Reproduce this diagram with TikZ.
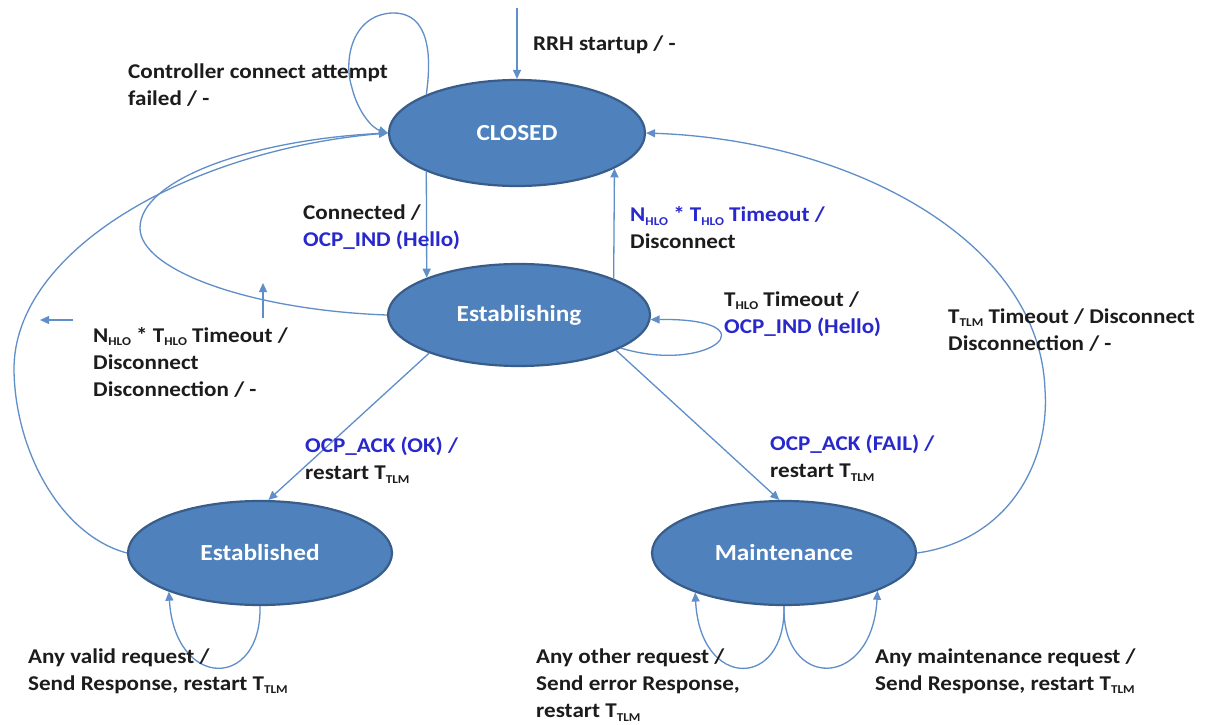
\documentclass[tikz,border=0pt]{standalone}
\usepackage{fontspec}
\setmainfont{Carlito}[FakeStretch=1.1]
\usetikzlibrary{shapes.geometric,arrows.meta}
\definecolor{stateblue}{RGB}{79,129,189}
\definecolor{stateedge}{RGB}{56,93,138}
\definecolor{linkblue}{RGB}{95,142,200}
\definecolor{actblue}{RGB}{40,40,205}
\definecolor{txtgray}{RGB}{28,28,28}
% lowered small index, as in T_TLM or N_HLO
\newcommand\lowsub[1]{\raisebox{-0.35ex}{\fontsize{12}{12}\selectfont #1}}
\newcommand\act[1]{\textcolor{actblue}{#1}}
\begin{document}
\begin{tikzpicture}[x=1pt,y=-1pt,
  state/.style={ellipse, draw=stateedge, line width=2.2pt, fill=stateblue,
    inner sep=0pt, text=white, font=\fontsize{23}{27}\selectfont\bfseries},
  trans/.style={draw=linkblue, line width=1.3pt, -{Triangle[length=9pt,width=8pt]}},
  lbl/.style={anchor=west, align=left, text=txtgray, inner sep=0pt,
    font=\fontsize{21}{27}\selectfont\bfseries},
]
\fill[white] (0,0) rectangle (1207,725);
\useasboundingbox (0,0) rectangle (1207,725);

% states
\node[state, minimum width=256pt, minimum height=106pt] (closed) at (517,133) {CLOSED};
\node[state, minimum width=262pt, minimum height=102pt] (estb) at (519,315) {Establishing};
\node[state, minimum width=264pt, minimum height=104pt] (estd) at (260,553) {Established};
\node[state, minimum width=264pt, minimum height=104pt] (maint) at (784,553) {Maintenance};

% entry transition
\coordinate (start) at (517,8);
\draw[trans] (start) -- (closed.north);

% CLOSED self-loop
\draw[trans] (closed.157) .. controls (434,40) and (422,12) .. (392,13)
  .. controls (352,15) and (343,60) .. (352,88)
  .. controls (358,112) and (372,128) .. (closed.west);

% CLOSED <-> Establishing
\draw[trans] (closed.203) -- (estb.158);
\draw[trans] (estb.21) -- (closed.340);

% Establishing self-loop
\draw[trans] (estb.342) .. controls (710,375) and (775,318) .. (estb.358);

% return paths to CLOSED
\draw[trans] (estb.west) .. controls (250,310) and (140,270) .. (140,228)
  .. controls (140,180) and (250,140) .. (closed.west);
\draw[trans] (estd.west) .. controls (60,535) and (15,450) .. (14,370)
  .. controls (13,250) and (190,150) .. (closed.west);
\draw[trans] (maint.east) .. controls (1010,540) and (1050,460) .. (1045,390)
  .. controls (1040,240) and (850,140) .. (closed.east);

% Establishing -> Established / Maintenance
\draw[trans] (estb.203) -- (estd.81);
\draw[trans] (estb.340) -- (maint.95);

% self-loops below
\draw[trans] (estd.south) .. controls (262,690) and (175,690) .. (estd.203);
\draw[trans] (maint.south) .. controls (786,690) and (700,690) .. (maint.204);
\draw[trans] (maint.south) .. controls (782,690) and (872,690) .. (maint.338);

% loose arrows
\coordinate (upT) at (263,318); \coordinate (upH) at (263,283);
\draw[trans] (upT) -- (upH);
\coordinate (leftT) at (73,320); \coordinate (leftH) at (40,320);
\draw[trans] (leftT) -- (leftH);

% labels
\node[lbl] (l1) at (533,45) {RRH startup / -};
\node[lbl] (l2) at (128,85) {Controller connect attempt\\failed / -};
\node[lbl] (l3) at (303,227) {Connected /\\\act{OCP\_IND (Hello)}};
\node[lbl] (l4) at (630,228) {\act{N\lowsub{HLO} * T\lowsub{HLO} Timeout /}\\Disconnect};
\node[lbl] (l5) at (724,314) {T\lowsub{HLO} Timeout /\\\act{OCP\_IND (Hello)}};
\node[lbl] (l6) at (948,330) {T\lowsub{TLM} Timeout / Disconnect\\Disconnection / -};
\node[lbl] (l7) at (93,362) {N\lowsub{HLO} * T\lowsub{HLO} Timeout /\\Disconnect\\Disconnection / -};
\node[lbl] (l8) at (305,460) {\act{OCP\_ACK (OK) /}\\restart T\lowsub{TLM}};
\node[lbl] (l9) at (770,458) {\act{OCP\_ACK (FAIL) /}\\restart T\lowsub{TLM}};
\node[lbl] (l10) at (28,671) {Any valid request /\\Send Response, restart T\lowsub{TLM}};
\node[lbl] (l11) at (536,685) {Any other request /\\Send error Response,\\restart T\lowsub{TLM}};
\node[lbl] (l12) at (875,671) {Any maintenance request /\\Send Response, restart T\lowsub{TLM}};
\end{tikzpicture}
\end{document}
